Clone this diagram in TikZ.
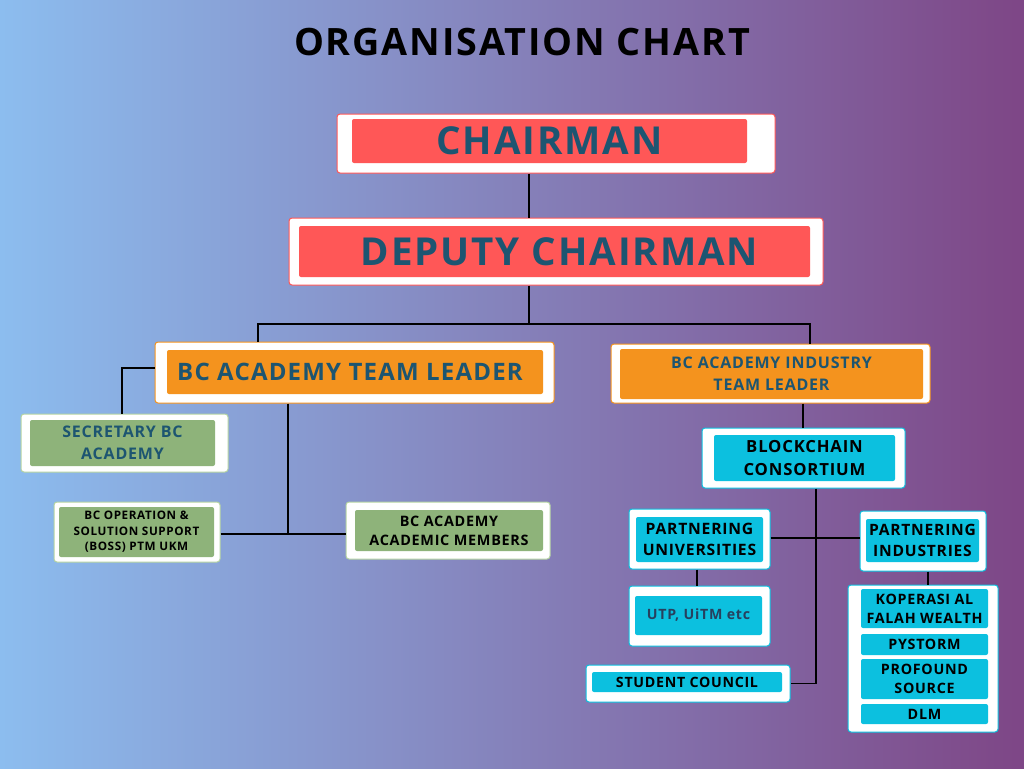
\documentclass[tikz,border=0pt]{standalone}
\usepackage{fontspec}
\setmainfont[LetterSpace=5]{Open Sans}
\definecolor{bgleft}{HTML}{8CBDEF}
\definecolor{bgmid}{HTML}{8886C0}
\definecolor{bgright}{HTML}{7E4686}
\definecolor{chairred}{HTML}{FF5757}
\definecolor{leadorange}{HTML}{F4931E}
\definecolor{staffgreen}{HTML}{8EB37A}
\definecolor{staffrim}{HTML}{B5D3A2}
\definecolor{consortcyan}{HTML}{0CC0DF}
\definecolor{labelteal}{HTML}{1D5571}
\definecolor{utpink}{HTML}{27405E}
\begin{document}
\begin{tikzpicture}[x=1pt,y=-1pt,
    boxframe/.style={draw=#1, fill=white, line width=1pt, rounded corners=3pt, inner sep=0pt},
    boxfill/.style={fill=#1, rounded corners=2pt, inner sep=0pt, align=center, font=\bfseries},
    link/.style={draw=black, line width=1.6pt}]
    % background
    \useasboundingbox (0,0) rectangle (1024,768);
    \shade[left color=bgleft, middle color=bgmid, right color=bgright, shading angle=90] (0,0) rectangle (1024,768);
    \node[font=\fontsize{37.7}{40}\selectfont\bfseries] (title) at (522,42) {ORGANISATION CHART};

    % top
    \node[boxframe=chairred, minimum width=438pt, minimum height=59pt] (chair) at (556,143.5) {};
    \node[boxfill=chairred, minimum width=395pt, minimum height=44pt, text=labelteal, font=\fontsize{38.5}{40}\selectfont\bfseries] (chair-in) at (549.5,141) {CHAIRMAN};
    \node[boxframe=chairred, minimum width=534pt, minimum height=67pt] (deputy) at (556,251.5) {};
    \node[boxfill=chairred, minimum width=511pt, minimum height=51pt, text=labelteal, font=\fontsize{38.5}{40}\selectfont\bfseries] (deputy-in) at (554.5,251.5) {\hspace*{10pt}DEPUTY CHAIRMAN};

    % academy side
    \node[boxframe=leadorange, minimum width=399pt, minimum height=61pt] (lead) at (354.5,372.5) {};
    \node[boxfill=leadorange, minimum width=376pt, minimum height=44pt, text=labelteal, font=\fontsize{24}{28}\selectfont\bfseries] (lead-in) at (355,372) {BC ACADEMY TEAM LEADER\hspace*{10pt}};
    \node[boxframe=staffrim, minimum width=207pt, minimum height=58pt] (secr) at (124.5,443) {};
    \node[boxfill=staffgreen, minimum width=185pt, minimum height=46pt, text=labelteal, font=\fontsize{16}{22}\selectfont\bfseries] (secr-in) at (122.5,443) {SECRETARY BC\\ACADEMY};
    \node[boxframe=staffrim, minimum width=166pt, minimum height=60pt] (boss) at (137,532) {};
    \node[boxfill=staffgreen, minimum width=155pt, minimum height=50pt, font=\fontsize{11.7}{15.5}\selectfont\bfseries] (boss-in) at (136.5,532) {BC OPERATION \&\\SOLUTION SUPPORT\\(BOSS) PTM UKM};
    \node[boxframe=staffrim, minimum width=204pt, minimum height=57pt] (acad) at (448,530.5) {};
    \node[boxfill=staffgreen, minimum width=188pt, minimum height=41pt, font=\fontsize{14.4}{19}\selectfont\bfseries] (acad-in) at (449,530.5) {BC ACADEMY\\ACADEMIC MEMBERS};

    % industry side
    \node[boxframe=leadorange, minimum width=319pt, minimum height=59pt] (ind) at (770.5,373.5) {};
    \node[boxfill=leadorange, minimum width=303pt, minimum height=50pt, text=labelteal, font=\fontsize{16}{22}\selectfont\bfseries] (ind-in) at (771.5,374) {BC ACADEMY INDUSTRY\\TEAM LEADER};
    \node[boxframe=consortcyan, minimum width=203pt, minimum height=60pt] (cons) at (803.5,458) {};
    \node[boxfill=consortcyan, minimum width=181pt, minimum height=46pt, font=\fontsize{16.7}{23}\selectfont\bfseries] (cons-in) at (804.5,458) {BLOCKCHAIN\\CONSORTIUM};
    \node[boxframe=consortcyan, minimum width=141pt, minimum height=60pt] (univ) at (699.5,539) {};
    \node[boxfill=consortcyan, minimum width=127pt, minimum height=45pt, font=\fontsize{15.7}{21.5}\selectfont\bfseries] (univ-in) at (699.5,539.5) {PARTNERING\\UNIVERSITIES};
    \node[boxframe=consortcyan, minimum width=126pt, minimum height=60pt] (pind) at (923,541) {};
    \node[boxfill=consortcyan, minimum width=113pt, minimum height=43pt, font=\fontsize{15.6}{21}\selectfont\bfseries] (pind-in) at (922.5,540.5) {PARTNERING\\INDUSTRIES};
    \node[boxframe=consortcyan, minimum width=141pt, minimum height=60pt] (utp) at (699.5,616) {};
    \node[boxfill=consortcyan, minimum width=127pt, minimum height=39pt, text=utpink, font=\fontsize{14.2}{18}\selectfont\bfseries] (utp-in) at (698.5,615.5) {UTP, UiTM etc};
    \node[boxframe=consortcyan, minimum width=204pt, minimum height=37pt] (stud) at (688,683.5) {};
    \node[boxfill=consortcyan, minimum width=190pt, minimum height=20pt, font=\fontsize{14.2}{18}\selectfont\bfseries] (stud-in) at (687,682) {STUDENT COUNCIL};
    \node[boxframe=consortcyan, minimum width=150pt, minimum height=147pt] (list) at (923,658.5) {};
    \node[boxfill=consortcyan, minimum width=127pt, minimum height=39pt, font=\fontsize{14.3}{19}\selectfont\bfseries] (kop) at (924.5,608.5) {KOPERASI AL\\FALAH WEALTH};
    \node[boxfill=consortcyan, minimum width=127pt, minimum height=21pt, font=\fontsize{14.3}{19}\selectfont\bfseries] (pys) at (924.5,644.5) {PYSTORM};
    \node[boxfill=consortcyan, minimum width=127pt, minimum height=40pt, font=\fontsize{14.3}{19}\selectfont\bfseries] (prof) at (924.5,679) {PROFOUND\\SOURCE};
    \node[boxfill=consortcyan, minimum width=127pt, minimum height=20pt, font=\fontsize{14.3}{19}\selectfont\bfseries] (dlm) at (924.5,714) {DLM};

    % connectors
    \coordinate (spine) at (529,324);
    \coordinate (ldrop) at (258,324);
    \coordinate (rdrop) at (810,324);
    \coordinate (ljoin) at (288,534);
    \coordinate (cjoin) at (816,683.5);
    \draw[link] (chair.south -| spine) -- (deputy.north -| spine);
    \draw[link] (deputy.south -| spine) -- (spine);
    \draw[link] (lead.north -| ldrop) -- (ldrop) -- (rdrop) -- (ind.north -| rdrop);
    \draw[link] (lead.west |- 0,368) -| (secr.north -| 122,0);
    \draw[link] (lead.south -| ljoin) -- (ljoin);
    \draw[link] (boss.east |- ljoin) -- (acad.west |- ljoin);
    \draw[link] (ind.south -| 803,0) -- (cons.north -| 803,0);
    \draw[link] (cons.south -| cjoin) |- (stud.east);
    \draw[link] (univ.east |- 0,538) -- (pind.west |- 0,538);
    \draw[link] (univ.south -| 697,0) -- (utp.north -| 697,0);
    \draw[link] (pind.south -| 928,0) -- (list.north -| 928,0);
\end{tikzpicture}
\end{document}
